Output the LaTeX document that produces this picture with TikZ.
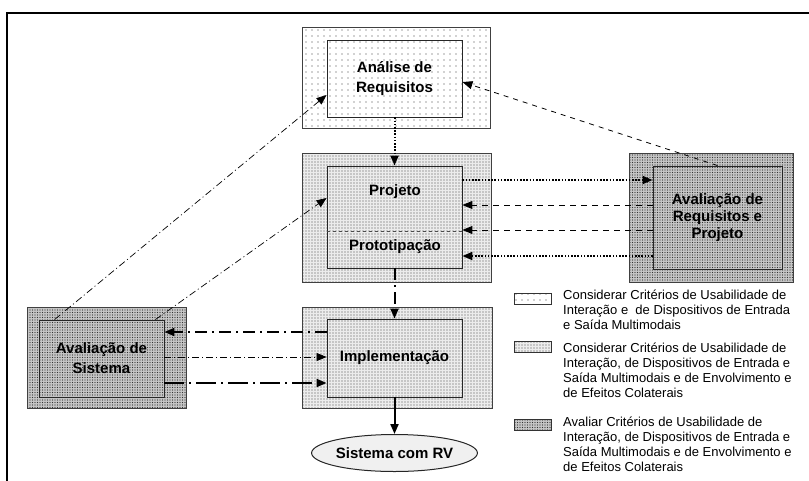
\documentclass[tikz,border=0pt]{standalone}
\usepackage{fontspec}
\setmainfont{Liberation Sans}
\usetikzlibrary{arrows.meta,positioning,patterns.meta,shapes.geometric}

\begin{document}
\begin{tikzpicture}[x=1pt, y=-1pt,
  sparse/.style={preaction={fill=white}, pattern={Dots[distance=6pt, radius=0.6pt]}, pattern color=black!75},
  medium/.style={preaction={fill=gray!15}, pattern={Dots[distance=3pt, radius=0.6pt]}, pattern color=black!70},
  dark/.style={preaction={fill=gray!45}, pattern={Dots[distance=2.5pt, radius=0.65pt]}, pattern color=black!80},
  outbox/.style={draw=black!75, line width=1pt, inner sep=0pt},
  inbox/.style={draw=black!85, line width=0.9pt, inner sep=0pt, align=center, font=\bfseries\fontsize{15}{20}\selectfont},
  boxtxt/.style={inner sep=0pt, font=\bfseries\fontsize{15}{18}\selectfont},
  legbox/.style={draw=black!80, line width=0.8pt, minimum width=37pt, minimum height=11pt, inner sep=0pt},
  legtxt/.style={anchor=north west, inner sep=0pt, align=left, font=\fontsize{13}{15}\selectfont},
  tip/.style={-{Triangle[length=10pt, width=8pt]}},
  dotline/.style={tip, line width=2pt, dash pattern=on 1.6pt off 1.6pt},
  dashline/.style={tip, line width=1pt, dash pattern=on 6pt off 5pt},
  thindash/.style={tip, line width=0.8pt, dash pattern=on 5pt off 5pt},
  thindot/.style={tip, line width=0.7pt, dash pattern=on 7pt off 3pt on 1pt off 3pt},
  thickdot/.style={tip, line width=2pt, dash pattern=on 12pt off 5pt on 2pt off 5pt},
  longdot/.style={tip, line width=2pt, dash pattern=on 20pt off 5pt on 2pt off 5pt}
]
  \useasboundingbox (0,0) rectangle (809,480);
  \draw[line width=2pt] (7,481) -- (7,13) -- (810,13);

  % phases
  \node[outbox, sparse, minimum width=188pt, minimum height=101pt] (anaOut) at (396,77.5) {};
  \node[inbox, sparse, minimum width=135pt, minimum height=77pt] (anaIn) at (394.5,78.5) {Análise de\\Requisitos};

  \node[outbox, medium, minimum width=189pt, minimum height=129pt] (prjOut) at (396.5,217.5) {};
  \node[inbox, medium, minimum width=135pt, minimum height=102pt] (prjIn) at (394.5,217) {};
  \draw[black!70, line width=0.8pt, dashed] (prjIn.west |- 0,231) -- (prjIn.east |- 0,231);
  \node[boxtxt] (prjTxt) at (395,192) {Projeto};
  \node[boxtxt] (protTxt) at (395,247) {Prototipação};

  \node[outbox, medium, minimum width=190pt, minimum height=101pt] (impOut) at (397,357.5) {};
  \node[inbox, medium, minimum width=135pt, minimum height=78pt] (impIn) at (394.5,358) {Implementação};

  \node[outbox, dark, minimum width=164pt, minimum height=129pt] (avrOut) at (711,217.5) {};
  \node[inbox, dark, minimum width=129pt, minimum height=103pt, font=\bfseries\fontsize{15}{17}\selectfont] (avrIn) at (717.5,217.5) {Avaliação de\\Requisitos e\\Projeto};

  \node[outbox, dark, minimum width=159pt, minimum height=101pt] (avsOut) at (106.5,357.5) {};
  \node[inbox, dark, minimum width=125pt, minimum height=77pt] (avsIn) at (101.5,358.5) {Avaliação de\\Sistema};

  \node[ellipse, draw=black!85, line width=1pt, fill=gray!12, minimum width=136pt, minimum height=37pt, inner sep=0pt, font=\bfseries\fontsize{15}{18}\selectfont] (rv) at (394.5,453) {Sistema com RV};

  % flow
  \draw[dotline] (anaIn.south) -- (prjIn.north);
  \draw[thickdot] (prjIn.south) -- (impIn.north);
  \draw[tip, line width=2pt] (impIn.south) -- (rv.north);

  \draw[dotline] (prjIn.east |- 0,180) -- (avrIn.west |- 0,180);
  \draw[dashline] (avrIn.west |- 0,205) -- (prjIn.east |- 0,205);
  \draw[dashline] (avrIn.west |- 0,230) -- (prjIn.east |- 0,230);
  \draw[dotline] (avrIn.west |- 0,256) -- (prjIn.east |- 0,256);
  \draw[thindash] (avrIn.north) -- (anaIn.east |- 0,82);

  \draw[thindot] ([xshift=16pt]avsIn.north west) -- (anaIn.west |- 0,95);
  \draw[thindot] ([xshift=-9pt]avsIn.north east) -- (prjIn.west |- 0,198);

  \draw[thickdot] (impIn.west |- 0,332) -- (avsIn.east |- 0,332);
  \draw[thindot] (avsIn.east |- 0,357) -- (impIn.west |- 0,357);
  \draw[longdot] (avsIn.east |- 0,383) -- (impIn.west |- 0,383);

  % legend
  \node[legbox, sparse] (leg1) at (532.5,299) {};
  \node[legtxt] (leg1Txt) at (563,290) {Considerar Critérios de Usabilidade de\\Interação e \ de Dispositivos de Entrada\\e Saída Multimodais};
  \node[legbox, medium] (leg2) at (532.5,347) {};
  \node[legtxt] (leg2Txt) at (563,342.5) {Considerar Critérios de Usabilidade de\\Interação, de Dispositivos de Entrada e\\Saída Multimodais e de Envolvimento e\\de Efeitos Colaterais};
  \node[legbox, dark] (leg3) at (532.5,425) {};
  \node[legtxt] (leg3Txt) at (563,416.5) {Avaliar Critérios de Usabilidade de\\Interação, de Dispositivos de Entrada e\\Saída Multimodais e de Envolvimento e\\de Efeitos Colaterais};
\end{tikzpicture}
\end{document}
